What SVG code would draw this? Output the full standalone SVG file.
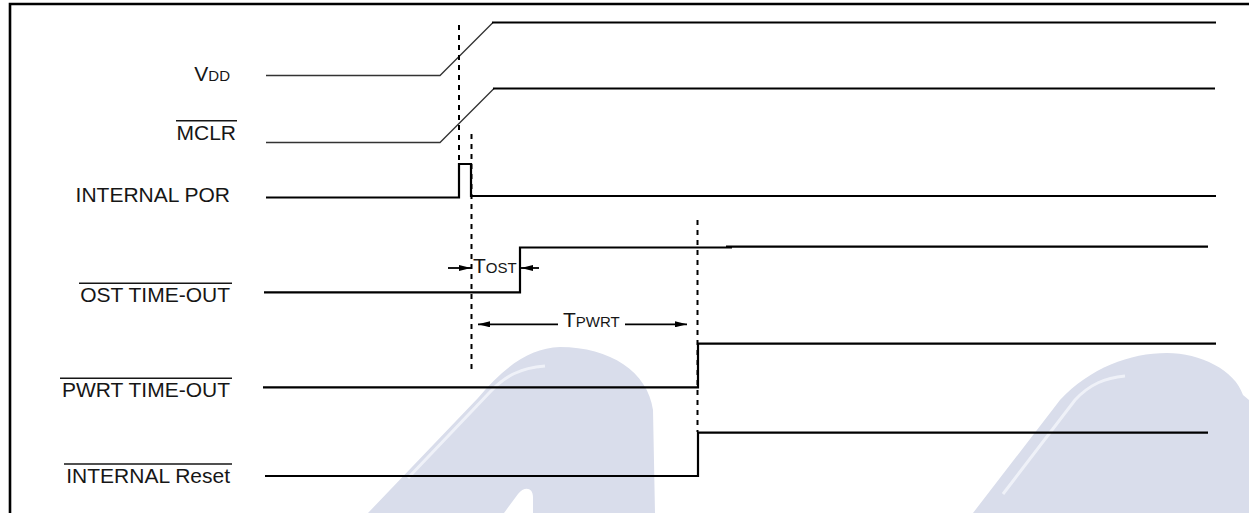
<svg xmlns="http://www.w3.org/2000/svg" width="1249" height="513" viewBox="0 0 1249 513">
<defs>
<style>
.lbl{font-family:"Liberation Sans",Arial,sans-serif;font-size:21px;fill:#161616;text-anchor:end}
.sm{font-size:15px}
.sig{fill:none;stroke:#000;stroke-width:2.2}
.thin{fill:none;stroke:#333;stroke-width:1.3}
.ov{stroke:#161616;stroke-width:1.6}
.dash{fill:none;stroke:#000;stroke-width:2;stroke-dasharray:5 5}
.arr{fill:none;stroke:#000;stroke-width:1.8}
.tl{font-family:"Liberation Sans",Arial,sans-serif;font-size:21px;fill:#161616}
.wm{fill:#d9ddeb}
.hl{fill:none;stroke:#f4f6fb;stroke-width:3;opacity:0.8}
</style>
<marker id="ah" viewBox="0 0 12 6" refX="12" refY="3" markerWidth="12" markerHeight="6" markerUnits="userSpaceOnUse" orient="auto">
<path d="M0,0 L12,3 L0,6 z" fill="#000"/>
</marker>
</defs>
<rect width="1249" height="513" fill="#fff"/>
<g id="watermark">
<path class="wm" d="M368 513 L478 398 C505 366 530 348 560 347 C610 347 648 372 653 410 L655 513 L533 513 L533 497 C533 487 524 486 518 494 L504 513 Z"/>
<path class="hl" d="M408 478 L490 392 C505 376 520 368 545 366"/>
<path class="wm" d="M973 513 L1060 400 C1090 368 1130 353 1167 353 C1200 353 1235 370 1243 395 L1249 400 L1249 513 Z"/>
<path class="hl" d="M1003 494 L1075 400 C1090 384 1105 378 1125 376"/>
</g>
<g id="frame">
<path d="M10 513 L10 4 L1249 4" fill="none" stroke="#000" stroke-width="2.6"/>
</g>
<g id="vdd">
<text class="lbl" x="230" y="80.5">V<tspan class="sm">DD</tspan></text>
<path class="thin" d="M266 75.5 L440 75.5 L493 22.5"/>
<path class="sig" d="M492 22.5 L1216 22.5"/>
</g>
<g id="mclr">
<text class="lbl" x="236" y="140">MCLR</text>
<line class="ov" x1="176" y1="120.7" x2="237" y2="120.7"/>
<path class="thin" d="M266 142.5 L440 142.5 L494 88.5"/>
<path class="sig" d="M493 88.5 L1215 88.5"/>
</g>
<g id="internal-por">
<text class="lbl" x="230" y="202.3">INTERNAL POR</text>
<path class="sig" d="M266 197.5 L459 197.5 L459 164 L471 164 L471 196 L1216 196"/>
</g>
<g id="ost-timeout">
<text class="lbl" x="230" y="302.3">OST TIME-OUT</text>
<line class="ov" x1="79" y1="283.3" x2="232" y2="283.3"/>
<path class="sig" d="M264 292.3 L520 292.3 L520 247.5 L732 247.5"/>
<path class="sig" d="M726 246.6 L1208 246.6"/>
</g>
<g id="pwrt-timeout">
<text class="lbl" x="230" y="397.3">PWRT TIME-OUT</text>
<line class="ov" x1="60" y1="378.3" x2="232" y2="378.3"/>
<path class="sig" d="M263 387.3 L698 387.3 L698 343.6 L1216 343.6"/>
</g>
<g id="internal-reset">
<text class="lbl" x="230" y="483.3">INTERNAL Reset</text>
<line class="ov" x1="64" y1="464" x2="232" y2="464"/>
<path class="sig" d="M265 476 L698 476 L698 432.6 L1208 432.6"/>
</g>
<g id="connectors">
<line class="dash" x1="459" y1="25" x2="459" y2="164"/>
<line class="dash" x1="471.5" y1="134" x2="471.5" y2="373"/>
<line class="dash" x1="697.5" y1="220" x2="697.5" y2="432"/>
<line class="arr" x1="448" y1="268" x2="471" y2="268" marker-end="url(#ah)"/>
<line class="arr" x1="539" y1="268" x2="521" y2="268" marker-end="url(#ah)"/>
<line class="arr" x1="558" y1="324.3" x2="478" y2="324.3" marker-end="url(#ah)"/>
<line class="arr" x1="625" y1="324.3" x2="687" y2="324.3" marker-end="url(#ah)"/>
</g>
<g id="timing-labels">
<text class="tl" x="473" y="273.3">T<tspan class="sm">OST</tspan></text>
<text class="tl" x="563" y="327.3">T<tspan class="sm">PWRT</tspan></text>
</g>
</svg>
